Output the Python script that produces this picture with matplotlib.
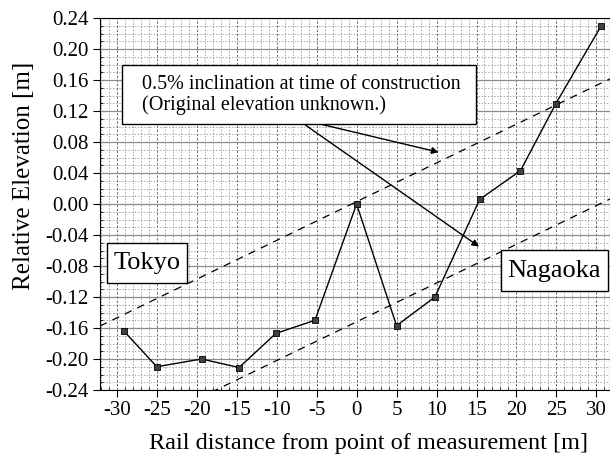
import matplotlib
matplotlib.use("Agg")
import matplotlib.pyplot as plt
from matplotlib.patches import Rectangle
from matplotlib.ticker import MultipleLocator
import numpy as np

plt.rcParams["font.family"] = ["Liberation Serif", "DejaVu Serif"]
plt.rcParams["axes.unicode_minus"] = False

# measured points along the rail
distance = [-29.1, -25.0, -19.4, -14.7, -10.1, -5.2, 0.0, 5.0, 9.8, 15.4, 20.5, 24.9, 30.6]
elevation = [-0.164, -0.210, -0.200, -0.211, -0.167, -0.150, 0.000, -0.157, -0.120, 0.006, 0.043, 0.129, 0.230]

# 0.5% design inclination lines (slope, offset)
slope = 0.005
offsets = [0.003, -0.152]

x_ticks = [-30, -25, -20, -15, -10, -5, 0, 5, 10, 15, 20, 25, 30]
y_ticks = [-0.24, -0.20, -0.16, -0.12, -0.08, -0.04, 0.00, 0.04, 0.08, 0.12, 0.16, 0.20, 0.24]

fig = plt.figure(figsize=(6.1, 4.68), dpi=100)
ax = fig.add_axes([100 / 610, 1 - 390 / 468, 510 / 610, 372 / 468])

ax.set_xlim(-32.1, 31.7)
ax.set_ylim(-0.24, 0.24)
ax.set_xticks(x_ticks)
ax.set_yticks(y_ticks)
ax.set_yticklabels(["%.2f" % v for v in y_ticks])
ax.xaxis.set_minor_locator(MultipleLocator(1))
ax.yaxis.set_minor_locator(MultipleLocator(0.01))

ax.grid(which="minor", color="0.5", linestyle=(0, (2, 2.5)), linewidth=0.5)
ax.grid(which="major", axis="y", color="0.55", linestyle="-", linewidth=0.9)
ax.grid(which="major", axis="x", color="0.35", linestyle=(0, (3, 2)), linewidth=0.6)
ax.set_axisbelow(True)

ax.tick_params(which="major", direction="out", length=5, labelsize=15, pad=3)
ax.tick_params(which="minor", direction="in", length=2.5)

xs = np.array(ax.get_xlim())
for off in offsets:
    ax.plot(xs, slope * xs + off, color="black", linestyle=(0, (6, 5)), linewidth=0.9)

ax.plot(distance, elevation, color="black", linewidth=1.0, marker="s", markersize=5,
        markerfacecolor="0.25", markeredgecolor="black", markeredgewidth=0.6)

ax.annotate("", xy=(15.6, -0.057), xytext=(-6.7, 0.104),
            arrowprops=dict(arrowstyle="-|>", color="black", lw=1.0, mutation_scale=10))
ax.annotate("", xy=(10.6, 0.066), xytext=(-4.9, 0.104),
            arrowprops=dict(arrowstyle="-|>", color="black", lw=1.0, mutation_scale=10))

ax.add_patch(Rectangle((0.043, 0.715), 0.694, 0.159, transform=ax.transAxes,
                       facecolor="white", edgecolor="black", linewidth=1.0, zorder=5))
ax.text(0.082, 0.794, "0.5% inclination at time of construction\n(Original elevation unknown.)",
        transform=ax.transAxes, fontsize=14.5, va="center", ha="left", linespacing=1.1, zorder=6)

ax.add_patch(Rectangle((0.0137, 0.2876), 0.157, 0.1074, transform=ax.transAxes,
                       facecolor="white", edgecolor="black", linewidth=1.0, zorder=5))
ax.text(0.092, 0.341, "Tokyo", transform=ax.transAxes, fontsize=19,
        va="center", ha="center", zorder=6)

ax.add_patch(Rectangle((0.786, 0.266), 0.21, 0.11, transform=ax.transAxes,
                       facecolor="white", edgecolor="black", linewidth=1.0, zorder=5))
ax.text(0.891, 0.321, "Nagaoka", transform=ax.transAxes, fontsize=19,
        va="center", ha="center", zorder=6)

ax.set_xlabel("Rail distance from point of measurement [m]", fontsize=17.5, labelpad=10)
ax.xaxis.set_label_coords(0.526, -0.115)
ax.set_ylabel("Relative Elevation [m]", fontsize=18)
ax.yaxis.set_label_coords(-0.128, 0.575)

fig.savefig("out.png", dpi=100)
